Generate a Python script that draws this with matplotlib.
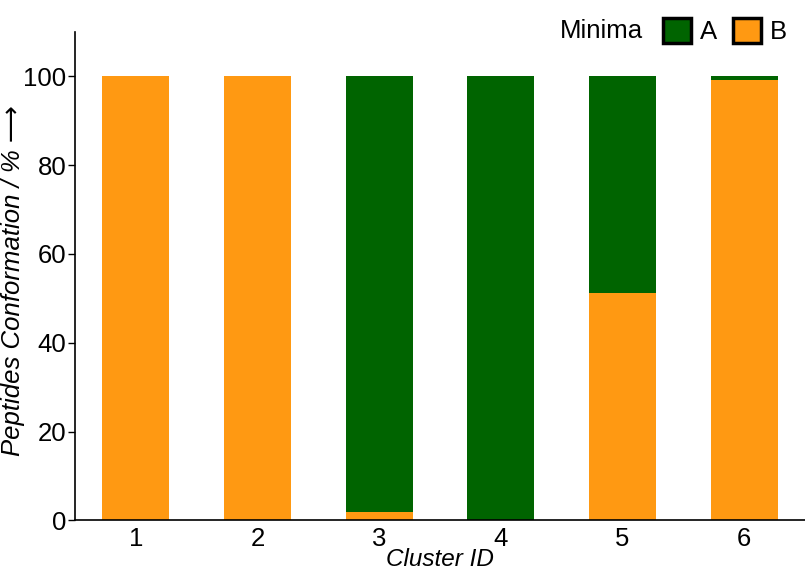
import numpy as np
import matplotlib
matplotlib.use("Agg")
import matplotlib.pyplot as plt
from matplotlib.patches import Patch
from matplotlib.offsetbox import HPacker

plt.rcParams['font.family'] = ['Liberation Sans', 'DejaVu Sans']

clusters = ['1', '2', '3', '4', '5', '6']
minima_b = [100, 100, 1.9, 0, 51.3, 99.2]
minima_a = [0, 0, 98.1, 100, 48.7, 0.8]

green = '#006400'
orange = '#FF9912'
fs = 18.5

fig = plt.figure(figsize=(8.05, 5.73), dpi=100)
ax = fig.add_axes([0.093, 0.092, 0.907, 0.852])

x = np.arange(1, len(clusters) + 1)
ax.bar(x, minima_b, width=0.55, color=orange)
ax.bar(x, minima_a, width=0.55, bottom=minima_b, color=green)

ax.set_xlim(0.5, 6.5)
ax.set_ylim(0, 110)
ax.set_xticks(x)
ax.set_xticklabels(clusters)
ax.set_yticks([0, 20, 40, 60, 80, 100])
ax.tick_params(axis='x', length=0, labelsize=fs, pad=5)
ax.tick_params(axis='y', length=5, width=1, labelsize=fs, pad=1)
for s in ['top', 'right']:
    ax.spines[s].set_visible(False)
for s in ['left', 'bottom']:
    ax.spines[s].set_linewidth(1.2)

ax.set_xlabel('Cluster ID', fontsize=17.5, style='italic')
ax.xaxis.set_label_coords(0.5, -0.057, transform=ax.transAxes)
ax.xaxis.label.set_va('top')
ax.set_ylabel('Peptides Conformation / % \u27f6', fontsize=fs, style='italic')
ax.yaxis.set_label_coords(-0.068, 0.49)

handles = [Patch(facecolor=green, edgecolor='black', linewidth=2.5, label='A'),
           Patch(facecolor=orange, edgecolor='black', linewidth=2.5, label='B')]
leg = ax.legend(handles=handles, title='Minima', ncol=2, loc='upper right',
                bbox_to_anchor=(1.0, 1.065), frameon=False, fontsize=fs,
                title_fontsize=fs, handlelength=1.1, handleheight=1.1,
                handletextpad=0.35, columnspacing=0.6, borderpad=0.2)
# put title to the left of the entries
box = leg._legend_box
box._children = [HPacker(children=[box._children[0], box._children[1]],
                         pad=0, sep=14, align='center')]

fig.savefig('out.png', dpi=100)
